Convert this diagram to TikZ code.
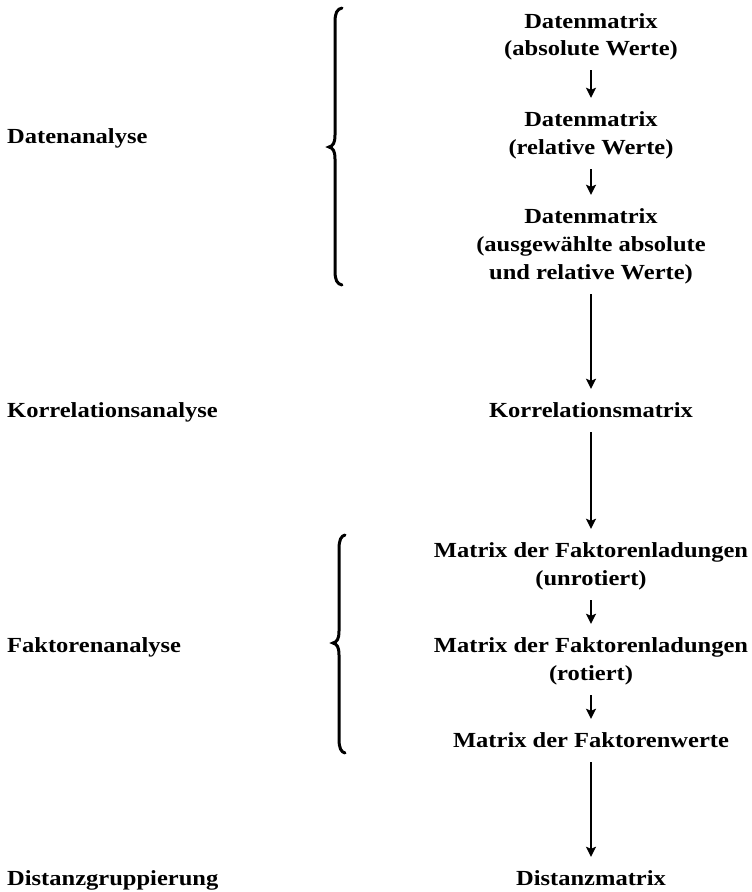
\documentclass[tikz,border=0pt]{standalone}
\usepackage{fontspec}
\setmainfont{Liberation Serif}[FakeStretch=1.14]
\usetikzlibrary{arrows.meta}
\begin{document}
\begin{tikzpicture}[x=1pt,y=-1pt,
  txt/.style={anchor=base,inner sep=0pt,text height=15pt,text depth=5pt,
    font=\fontsize{21.5}{28}\selectfont\bfseries},
  lbl/.style={anchor=base west,inner sep=0pt,
    font=\fontsize{21.5}{28}\selectfont\bfseries},
  flow/.style={line width=2pt,-{Stealth[length=10pt,width=10pt,inset=2pt]},
    shorten <=10pt,shorten >=13pt},
  bracestyle/.style={line width=3pt,line cap=round}]
\useasboundingbox (0,0) rectangle (752,892);

% right column
\node[txt] (d1a) at (591,28) {Datenmatrix};
\node[txt] (d1b) at (591,55) {(absolute Werte)};
\node[txt] (d2a) at (591,126) {Datenmatrix};
\node[txt] (d2b) at (591,154) {(relative Werte)};
\node[txt] (d3a) at (591,223) {Datenmatrix};
\node[txt] (d3b) at (591,251) {(ausgewählte absolute};
\node[txt] (d3c) at (591,279) {und relative Werte)};
\node[txt] (korr) at (591,417) {Korrelationsmatrix};
\node[txt] (m1a) at (591,557) {Matrix der Faktorenladungen};
\node[txt] (m1b) at (591,585) {(unrotiert)};
\node[txt] (m2a) at (591,652) {Matrix der Faktorenladungen};
\node[txt] (m2b) at (591,680) {(rotiert)};
\node[txt] (fw) at (591,747) {Matrix der Faktorenwerte};
\node[txt] (dist) at (591,885) {Distanzmatrix};

% left labels
\node[lbl] (l1) at (7,143) {Datenanalyse};
\node[lbl] (l2) at (7,417) {Korrelationsanalyse};
\node[lbl] (l3) at (7,652) {Faktorenanalyse};
\node[lbl] (l4) at (7,885) {Distanzgruppierung};

% arrows
\draw[flow] (d1b.south) -- (d2a.north);
\draw[flow] (d2b.south) -- (d3a.north);
\draw[flow] (d3c.south) -- (korr.north);
\draw[flow] (korr.south) -- (m1a.north);
\draw[flow] (m1b.south) -- (m2a.north);
\draw[flow] (m2b.south) -- (fw.north);
\draw[flow] (fw.south) -- (dist.north);

% braces
\draw[bracestyle] (342,8) .. controls (337,9) and (335,13) .. (335,22)
  -- (335,135) .. controls (335,143) and (333,146) .. (329,147)
  .. controls (333,148) and (335,151) .. (335,159)
  -- (335,271) .. controls (335,280) and (337,284) .. (342,285);
\draw[bracestyle] (345,535) .. controls (341,536) and (339,540) .. (339,549)
  -- (339,631) .. controls (339,639) and (337,642) .. (333,643)
  .. controls (337,644) and (339,647) .. (339,655)
  -- (339,739) .. controls (339,748) and (341,752) .. (345,753);
\end{tikzpicture}
\end{document}
